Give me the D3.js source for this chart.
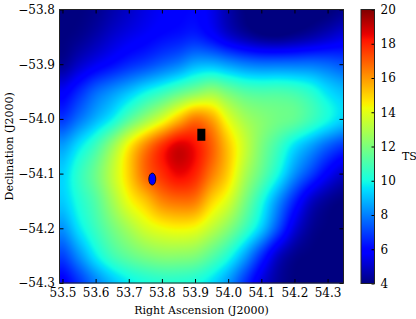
<!DOCTYPE html>
<html lang="en">
<head>
<meta charset="UTF-8">
<title>TS map</title>
<script src="https://d3js.org/d3.v7.min.js"></script>
<style>
    body { margin: 0; background: #fff; }
    text { font-family: "DejaVu Serif", serif; fill: #000; }
</style>
</head>
<body>
<svg width="416" height="319"></svg>
<script>
    // tick labels
    const raTicks = [53.5, 53.6, 53.7, 53.8, 53.9, 54.0, 54.1, 54.2, 54.3];
    const decTicks = [-53.8, -53.9, -54.0, -54.1, -54.2, -54.3];
    const tsTicks = [4, 6, 8, 10, 12, 14, 16, 18, 20];

    // TS values, every 0.05 deg
    const gridRA = [53.50, 53.55, 53.60, 53.65, 53.70, 53.75, 53.80, 53.85, 53.90,
                    53.95, 54.00, 54.05, 54.10, 54.15, 54.20, 54.25, 54.30, 54.35];
    const gridDec = [-53.80, -53.85, -53.90, -53.95, -54.00, -54.05,
                     -54.10, -54.15, -54.20, -54.25, -54.30];
    const tsGrid = [
        [4.0, 4.0, 4.2, 4.6, 5.0, 5.4, 5.7, 5.9, 6.0, 5.5, 4.6, 4.0, 3.8, 3.8, 3.8, 3.8, 3.9, 4.2],
        [4.0, 4.2, 4.6, 5.1, 5.5, 5.8, 6.1, 6.3, 6.5, 6.0, 5.2, 4.6, 4.2, 4.1, 4.3, 4.6, 5.0, 5.4],
        [4.3, 5.0, 5.6, 6.1, 6.6, 7.0, 7.5, 8.0, 8.7, 8.8, 8.4, 8.0, 7.8, 7.8, 7.8, 7.8, 7.6, 7.3],
        [5.7, 6.6, 7.6, 8.3, 9.0, 9.8, 10.5, 11.3, 12.0, 12.5, 11.8, 11.2, 11.0, 11.0, 10.8, 10.3, 9.5, 9.0],
        [6.8, 7.8, 8.8, 9.8, 11.2, 12.5, 13.8, 15.3, 16.5, 15.8, 14.0, 12.8, 12.2, 11.8, 11.5, 10.8, 10.0, 9.3],
        [8.5, 9.6, 10.8, 12.5, 14.5, 16.3, 17.8, 18.8, 18.3, 17.0, 15.2, 13.5, 12.0, 10.8, 9.5, 8.5, 7.5, 6.8],
        [9.3, 10.5, 11.7, 13.3, 15.0, 16.8, 17.8, 18.5, 18.0, 16.5, 15.0, 13.0, 11.5, 10.0, 8.3, 7.0, 5.8, 5.0],
        [9.2, 10.2, 11.2, 12.7, 14.2, 15.2, 16.3, 16.7, 16.5, 15.0, 13.8, 12.0, 10.2, 8.3, 6.5, 5.0, 4.3, 4.0],
        [8.3, 9.6, 10.7, 11.8, 12.8, 13.7, 14.2, 14.4, 14.2, 13.3, 12.2, 10.8, 9.2, 7.2, 5.3, 4.3, 4.0, 4.0],
        [7.0, 8.3, 9.7, 10.8, 11.5, 12.0, 12.3, 12.3, 12.1, 11.3, 10.2, 8.6, 6.7, 5.0, 4.2, 4.0, 4.0, 4.0],
        [5.8, 6.8, 8.0, 9.0, 9.7, 10.1, 10.3, 10.3, 10.1, 9.5, 8.4, 6.8, 5.3, 4.4, 4.0, 4.0, 4.0, 4.0]
    ];

    // markers
    const srcRA = [53.771], srcDec = [-54.110];   // blue ellipse
    const posRA = [53.919], posDec = [-54.029];   // black box

    const svg = d3.select("svg");
    const pLeft = 59.5, pRight = 343.5, pTop = 9.5, pBottom = 283;

    const x = d3.scaleLinear().domain([53.491, 54.348]).range([pLeft, pRight]);
    const y = d3.scaleLinear().domain([-53.8, -54.3]).range([pTop, pBottom]);

    // matplotlib "jet"
    const jr = d3.scaleLinear().domain([0, 0.35, 0.66, 0.89, 1]).range([0, 0, 1, 1, 0.5]).clamp(true);
    const jg = d3.scaleLinear().domain([0, 0.125, 0.375, 0.64, 0.91, 1]).range([0, 0, 1, 1, 0, 0]).clamp(true);
    const jb = d3.scaleLinear().domain([0, 0.11, 0.34, 0.65, 1]).range([0.5, 1, 1, 0, 0]).clamp(true);
    const tsNorm = d3.scaleLinear().domain([4, 20]).range([0, 1]).clamp(true);
    const jet = v => {
        const t = tsNorm(v);
        return [jr(t) * 255, jg(t) * 255, jb(t) * 255];
    };

    // bicubic (catmull-rom) lookup on the grid, like imshow
    const gi = d3.scaleLinear().domain([gridRA[0], gridRA[gridRA.length - 1]]).range([0, gridRA.length - 1]);
    const gj = d3.scaleLinear().domain([gridDec[0], gridDec[gridDec.length - 1]]).range([0, gridDec.length - 1]);
    const nc = gridRA.length, nr = gridDec.length;
    function cr(p0, p1, p2, p3, t) {
        return p1 + 0.5 * t * (p2 - p0 + t * (2 * p0 - 5 * p1 + 4 * p2 - p3 + t * (3 * (p1 - p2) + p3 - p0)));
    }
    function val(i, j) {
        i = Math.max(0, Math.min(nc - 1, i));
        j = Math.max(0, Math.min(nr - 1, j));
        return tsGrid[j][i];
    }
    function sample(ra, dec) {
        const fi = Math.max(0, Math.min(nc - 1, gi(ra)));
        const fj = Math.max(0, Math.min(nr - 1, gj(dec)));
        const i = Math.min(Math.floor(fi), nc - 2), j = Math.min(Math.floor(fj), nr - 2);
        const ti = fi - i, tj = fj - j;
        const rows = [-1, 0, 1, 2].map(k =>
            cr(val(i - 1, j + k), val(i, j + k), val(i + 1, j + k), val(i + 2, j + k), ti));
        return cr(rows[0], rows[1], rows[2], rows[3], tj);
    }

    const w = Math.round(pRight - pLeft), h = Math.round(pBottom - pTop);
    const canvas = document.createElement("canvas");
    canvas.width = w; canvas.height = h;
    const ctx = canvas.getContext("2d");
    const img = ctx.createImageData(w, h);
    for (let py = 0; py < h; py++) {
        const dec = y.invert(pTop + py + 0.5);
        for (let px = 0; px < w; px++) {
            const c = jet(sample(x.invert(pLeft + px + 0.5), dec));
            const k = (py * w + px) * 4;
            img.data[k] = c[0]; img.data[k + 1] = c[1]; img.data[k + 2] = c[2]; img.data[k + 3] = 255;
        }
    }
    ctx.putImageData(img, 0, 0);

    svg.append("image")
        .attr("x", pLeft).attr("y", pTop)
        .attr("width", w).attr("height", h)
        .attr("preserveAspectRatio", "none")
        .attr("href", canvas.toDataURL());

    // markers
    svg.selectAll(".src")
        .data(d3.zip(srcRA, srcDec))
        .enter().append("ellipse")
        .attr("cx", d => x(d[0])).attr("cy", d => y(d[1]))
        .attr("rx", 3.5).attr("ry", 6)
        .style("fill", "#0000ff").style("stroke", "#000").style("stroke-width", 0.8);

    svg.selectAll(".pos")
        .data(d3.zip(posRA, posDec))
        .enter().append("rect")
        .attr("x", d => x(d[0]) - 4).attr("y", d => y(d[1]) - 6)
        .attr("width", 8).attr("height", 12)
        .style("fill", "#000");

    // axes, ticks inside
    const fmt = d => d3.format(".1f")(d).replace("-", "\u2212");
    const styleAxis = g => {
        g.select(".domain").remove();
        g.selectAll(".tick line").attr("stroke", "#000");
        g.selectAll("text").style("font-size", "12px").style("font-family", "DejaVu Serif");
    };

    svg.append("g").attr("transform", `translate(0,${pBottom})`)
        .call(d3.axisBottom(x).tickValues(raTicks).tickFormat(fmt).tickSize(-4).tickPadding(5.5))
        .call(styleAxis);
    svg.append("g").attr("transform", `translate(0,${pTop})`)
        .call(d3.axisTop(x).tickValues(raTicks).tickFormat("").tickSize(-4))
        .call(styleAxis);
    svg.append("g").attr("transform", `translate(${pLeft},0)`)
        .call(d3.axisLeft(y).tickValues(decTicks).tickFormat(fmt).tickSize(-4).tickPadding(4.5))
        .call(styleAxis);
    svg.append("g").attr("transform", `translate(${pRight},0)`)
        .call(d3.axisRight(y).tickValues(decTicks).tickFormat("").tickSize(-4))
        .call(styleAxis);

    svg.append("rect")
        .attr("x", pLeft).attr("y", pTop)
        .attr("width", pRight - pLeft).attr("height", pBottom - pTop)
        .style("fill", "none").style("stroke", "#222").style("stroke-width", 1);

    svg.append("text")
        .attr("x", (pLeft + pRight) / 2).attr("y", 314)
        .attr("text-anchor", "middle")
        .style("font-size", "11px")
        .text("Right Ascension (J2000)");

    svg.append("text")
        .attr("transform", `translate(12.5,${(pTop + pBottom) / 2}) rotate(-90)`)
        .attr("text-anchor", "middle")
        .style("font-size", "11px")
        .text("Declination (J2000)");

    // colorbar
    const cbL = 361, cbR = 374.5;
    const cy = d3.scaleLinear().domain([4, 20]).range([283.5, 9.5]);
    const grad = svg.append("defs").append("linearGradient")
        .attr("id", "jet").attr("x1", 0).attr("y1", 1).attr("x2", 0).attr("y2", 0);
    grad.selectAll("stop")
        .data(d3.range(0, 101).map(i => 4 + i * 0.16))
        .enter().append("stop")
        .attr("offset", d => tsNorm(d))
        .attr("stop-color", d => d3.rgb(...jet(d)).formatHex());

    svg.append("rect")
        .attr("x", cbL).attr("y", cy(20))
        .attr("width", cbR - cbL).attr("height", cy(4) - cy(20))
        .style("fill", "url(#jet)");

    svg.append("g").attr("transform", `translate(${cbR},0)`)
        .call(d3.axisRight(cy).tickValues(tsTicks).tickFormat(d3.format("d")).tickSize(-3).tickPadding(6))
        .call(styleAxis);

    svg.append("rect")
        .attr("x", cbL).attr("y", cy(20))
        .attr("width", cbR - cbL).attr("height", cy(4) - cy(20))
        .style("fill", "none").style("stroke", "#222").style("stroke-width", 1);

    svg.append("text")
        .attr("x", 402).attr("y", 160)
        .style("font-size", "11px")
        .text("TS");
</script>
</body>
</html>
